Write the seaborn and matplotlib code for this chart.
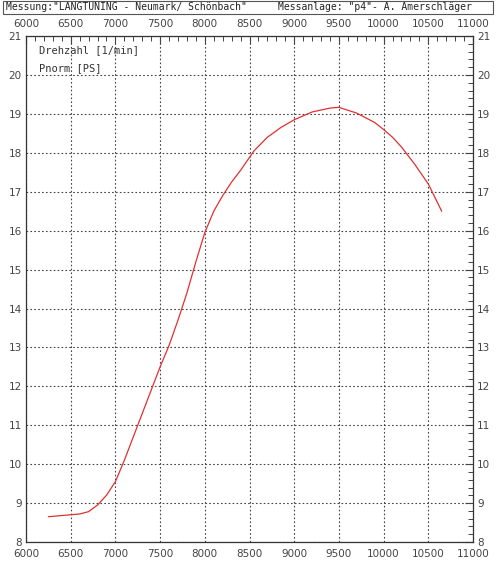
import matplotlib
matplotlib.use("Agg")
import matplotlib.pyplot as plt
import matplotlib.patches as patches
from matplotlib.ticker import MultipleLocator
import seaborn as sns
import pandas as pd

# curve
drehzahl = [6250, 6500, 6600, 6700, 6800, 6900, 7000, 7100, 7200, 7300, 7400,
            7500, 7600, 7700, 7800, 7900, 8000, 8100, 8200, 8300, 8400, 8550,
            8700, 8850, 9000, 9200, 9400, 9500, 9700, 9900, 10000, 10100,
            10200, 10350, 10500, 10650]
pnorm = [8.65, 8.70, 8.72, 8.78, 8.95, 9.20, 9.55, 10.10, 10.70, 11.30, 11.90,
         12.50, 13.05, 13.70, 14.40, 15.20, 15.95, 16.50, 16.90, 17.25, 17.55,
         18.05, 18.40, 18.65, 18.85, 19.05, 19.15, 19.17, 19.02, 18.78, 18.60,
         18.40, 18.15, 17.70, 17.20, 16.50]

kopf_links = 'Messung:"LANGTUNING - Neumark/ Schönbach"'
kopf_rechts = 'Messanlage: "p4"- A. Amerschläger'
legende = ["Drehzahl [1/min]", "Pnorm [PS]"]

df = pd.DataFrame({"rpm": drehzahl, "ps": pnorm})

sns.set_style("white")
plt.rcParams["font.family"] = ["DejaVu Sans"]

fig = plt.figure(figsize=(5, 5.64), dpi=100)
ax = fig.add_axes([0.052, 0.039, 0.894, 0.897])

sns.lineplot(data=df, x="rpm", y="ps", color="#e03030", linewidth=0.9, ax=ax)

ax.set_xlim(6000, 11000)
ax.set_ylim(8, 21)
ax.xaxis.set_major_locator(MultipleLocator(500))
ax.xaxis.set_minor_locator(MultipleLocator(100))
ax.yaxis.set_major_locator(MultipleLocator(1))
ax.yaxis.set_minor_locator(MultipleLocator(0.2))
ax.tick_params(which="both", direction="in", top=True, right=True,
               labeltop=True, labelright=True, colors="#444444",
               labelsize=7.5, pad=3)
ax.tick_params(axis="x", which="both", pad=5)
ax.tick_params(which="major", length=6, width=0.8)
ax.tick_params(which="minor", length=3.5, width=0.7)
ax.set_xlabel("")
ax.set_ylabel("")
ax.grid(True, which="major", linestyle=(0, (1.5, 2)), color="#444444",
        linewidth=0.8)
for s in ax.spines.values():
    s.set_color("#333333")
    s.set_linewidth(0.9)

for i, t in enumerate(legende):
    ax.text(0.03, 0.972 - i * 0.036, t, transform=ax.transAxes,
            family="DejaVu Sans Mono", fontsize=7.5, color="#333333",
            va="center")

# header box
fig.patches.append(patches.Rectangle((0.006, 0.975), 0.98, 0.024,
                                     transform=fig.transFigure, fill=False,
                                     edgecolor="#555555", linewidth=0.8))
fig.text(0.012, 0.987, kopf_links, family="DejaVu Sans Mono", fontsize=7,
         color="#222222", va="center")
fig.text(0.555, 0.987, kopf_rechts, family="DejaVu Sans Mono", fontsize=7,
         color="#222222", va="center")

fig.savefig("out.png", dpi=100, facecolor="white")
